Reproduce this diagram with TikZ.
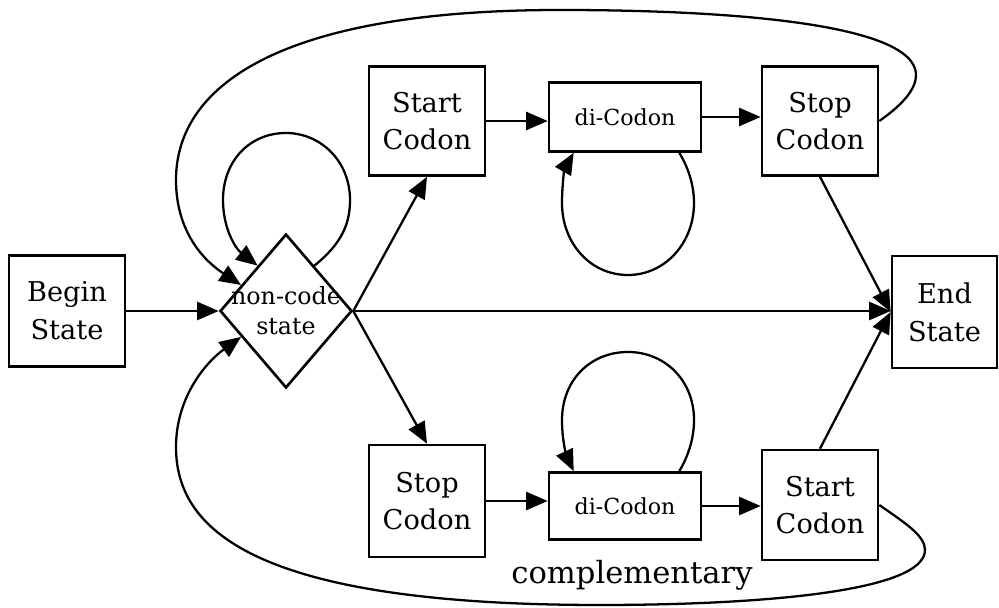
\documentclass[tikz,border=0pt]{standalone}
\usepackage{fontspec}
\setmainfont{DejaVu Serif}
\usetikzlibrary{shapes.geometric,arrows.meta}

\begin{document}
\begin{tikzpicture}[
    statebox/.style={draw, line width=1.5pt, align=center, inner sep=0pt,
        font=\fontsize{15.5}{21.5}\selectfont},
    arr/.style={line width=1.3pt, -{Triangle[length=4.3mm,width=3.6mm]}}
  ]
  \useasboundingbox (0,0) rectangle (19.98,12.16);

  % States
  \node[statebox, minimum width=2.32cm, minimum height=2.22cm] (begin) at (1.34,5.94) {Begin\\State};
  \node[draw, line width=1.5pt, diamond, inner sep=0pt, minimum width=2.64cm, minimum height=3.08cm] (nc) at (5.72,5.94) {};
  \node[align=center, font=\fontsize{13.5}{17}\selectfont] at (nc) {non-code\\state};
  \node[statebox, minimum width=2.32cm, minimum height=2.18cm] (startT) at (8.54,9.74) {Start\\Codon};
  \node[statebox, minimum width=3.04cm, minimum height=1.38cm, font=\fontsize{12.6}{15}\selectfont] (dicT) at (12.5,9.82) {di-Codon};
  \node[statebox, minimum width=2.32cm, minimum height=2.18cm] (stopT) at (16.4,9.74) {Stop\\Codon};
  \node[statebox, minimum width=2.1cm, minimum height=2.24cm] (endS) at (18.89,5.92) {End\\State};

  % Complementary strand
  \node[statebox, minimum width=2.32cm, minimum height=2.24cm] (stopB) at (8.54,2.14) {Stop\\Codon};
  \node[statebox, minimum width=3.04cm, minimum height=1.34cm, font=\fontsize{12.6}{15}\selectfont] (dicB) at (12.5,2.04) {di-Codon};
  \node[statebox, minimum width=2.32cm, minimum height=2.2cm] (startB) at (16.4,2.06) {Start\\Codon};
  \node[font=\fontsize{17.4}{20}\selectfont] (compl) at (12.64,0.66) {complementary};

  % Straight transitions
  \draw[arr] (begin.east) -- (nc.west);
  \draw[arr] (nc.east) -- (nc.east -| endS.west);
  \draw[arr] (nc.east) -- (startT.south);
  \draw[arr] (nc.east) -- (stopB.north);
  \draw[arr] (startT.east) -- (startT.east -| dicT.west);
  \draw[arr] (dicT.east) -- (dicT.east -| stopT.west);
  \draw[arr] (stopB.east) -- (stopB.east -| dicB.west);
  \draw[arr] (dicB.east) -- (dicB.east -| startB.west);
  \draw[arr] (stopT.south) -- (endS.west);
  \draw[arr] (startB.north) -- (endS.west);

  % Self loops
  \draw[arr] (nc.58) .. controls (6.85,7.3) and (7.0,7.7) .. (7.0,8.16)
    .. controls (7.0,8.95) and (6.4,9.5) .. (5.72,9.5)
    .. controls (5.0,9.5) and (4.46,8.95) .. (4.46,8.16)
    .. controls (4.46,7.6) and (4.7,7.2) .. (nc.122);
  \draw[arr] ([xshift=-0.46cm]dicT.south east) .. controls (13.8,8.75) and (13.88,8.4) .. (13.88,8.1)
    .. controls (13.88,7.3) and (13.3,6.66) .. (12.56,6.66)
    .. controls (11.8,6.66) and (11.24,7.3) .. (11.24,8.1)
    .. controls (11.24,8.5) and (11.3,8.8) .. ([xshift=0.52cm]dicT.south west);
  \draw[arr] ([xshift=-0.46cm]dicB.north east) .. controls (13.8,3.1) and (13.88,3.45) .. (13.88,3.76)
    .. controls (13.88,4.55) and (13.3,5.12) .. (12.56,5.12)
    .. controls (11.8,5.12) and (11.24,4.55) .. (11.24,3.76)
    .. controls (11.24,3.3) and (11.35,3.0) .. ([xshift=0.52cm]dicB.north west);

  % Back to non-code state
  \draw[arr] (stopT.east) .. controls (18.1,10.1) and (18.32,10.4) .. (18.32,10.66)
    .. controls (18.32,11.7) and (14.5,11.96) .. (11.2,11.96)
    .. controls (5.5,11.96) and (3.52,10.4) .. (3.52,8.56)
    .. controls (3.52,7.6) and (4.0,7.0) .. (nc.150);
  \draw[arr] (startB.east) .. controls (18.1,1.7) and (18.5,1.45) .. (18.5,1.16)
    .. controls (18.5,0.3) and (15.0,0.06) .. (12.0,0.06)
    .. controls (5.0,0.06) and (3.52,1.6) .. (3.52,3.22)
    .. controls (3.52,4.2) and (4.1,4.9) .. (nc.210);
\end{tikzpicture}
\end{document}
